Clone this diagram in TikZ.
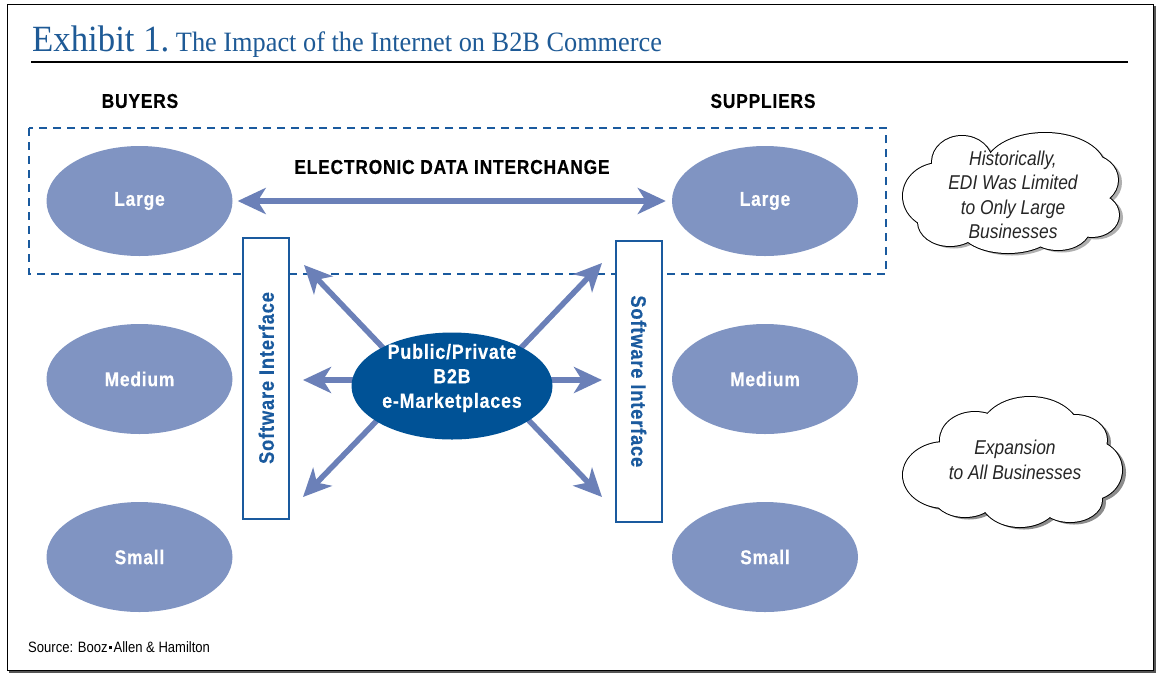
\documentclass[tikz,border=0pt]{standalone}
\usepackage{fontspec}
\setmainfont{Liberation Serif}
\newfontfamily\cond{Liberation Sans}[FakeStretch=0.87]
\newfontfamily\condsp{Liberation Sans}[FakeStretch=0.87,LetterSpace=4,BoldFeatures={FakeBold=0.4}]
\newfontfamily\ttlfont{Liberation Serif}[FakeStretch=0.94]
\usetikzlibrary{shapes.geometric,arrows.meta}

\definecolor{ellcol}{RGB}{128,148,194}
\definecolor{arrcol}{RGB}{107,128,184}
\definecolor{mktcol}{RGB}{0,82,150}
\definecolor{bluetxt}{RGB}{26,90,158}
\definecolor{titlecol}{RGB}{30,90,150}
\definecolor{framegray}{RGB}{85,85,85}
\definecolor{shadowgray}{RGB}{175,175,175}

\newcommand\cloudApath{%
 (940,196) ellipse [x radius=37pt, y radius=33pt]
 (962,162) ellipse [x radius=30pt, y radius=26pt]
 (1045,168) ellipse [x radius=60pt, y radius=35pt]
 (1090,180) ellipse [x radius=28pt, y radius=25pt]
 (1092,215) ellipse [x radius=27pt, y radius=22pt]
 (1058,228) ellipse [x radius=32pt, y radius=22pt]
 (1008,228) ellipse [x radius=48pt, y radius=25pt]
 (950,222) ellipse [x radius=32pt, y radius=24pt]
 (1011,193) ellipse [x radius=85pt, y radius=38pt]}
\newcommand\cloudBpath{%
 (945,475) ellipse [x radius=42pt, y radius=33pt]
 (975,440) ellipse [x radius=35pt, y radius=28pt]
 (1030,433) ellipse [x radius=50pt, y radius=36pt]
 (1075,440) ellipse [x radius=32pt, y radius=25pt]
 (1090,470) ellipse [x radius=32pt, y radius=30pt]
 (1070,500) ellipse [x radius=32pt, y radius=22pt]
 (1020,497) ellipse [x radius=40pt, y radius=30pt]
 (965,495) ellipse [x radius=32pt, y radius=22pt]
 (1012,465) ellipse [x radius=85pt, y radius=40pt]}

\begin{document}
\begin{tikzpicture}[x=1pt,y=-1pt,
 seg/.style={ellipse, fill=ellcol, minimum width=186pt, minimum height=110pt, inner sep=0pt, text=white, font=\condsp\bfseries\fontsize{20}{24}\selectfont},
 hdr/.style={font=\condsp\bfseries\fontsize{20}{24}\selectfont, text=black},
 swbox/.style={draw=bluetxt, line width=2pt, fill=white, minimum width=281pt, minimum height=46pt, inner sep=0pt, text=bluetxt, font=\condsp\bfseries\fontsize{21}{24}\selectfont},
 arr/.style={draw=arrcol, line width=5.5pt, -{Stealth[length=28pt,width=26pt,inset=8pt]}},
 arrboth/.style={draw=arrcol, line width=5.5pt, {Stealth[length=28pt,width=26pt,inset=8pt]}-{Stealth[length=28pt,width=26pt,inset=8pt]}},
 cloudtext/.style={align=center, font=\cond\itshape\fontsize{20}{24.5}\selectfont, text=black!85},
 mktell/.style={ellipse, fill=mktcol, minimum width=201pt, minimum height=107pt, inner sep=0pt},
 mkttext/.style={align=center, text=white, font=\condsp\bfseries\fontsize{20.5}{24.5}\selectfont}
]
\useasboundingbox (0,0) rectangle (1158,673);
\fill[white] (0,0) rectangle (1158,673);

% frame
\draw[framegray, line width=3pt] (1154.5,6) -- (1154.5,671.5) -- (9,671.5);
\draw[black, line width=1pt] (7.5,4.5) rectangle (1153,670);

% title
\node[anchor=base west, text=titlecol, inner sep=0pt] (title) at (32,51)
  {\ttlfont\fontsize{37}{40}\selectfont Exhibit 1.\fontsize{28}{30}\selectfont\ The Impact of the Internet on B2B Commerce};
\draw[black, line width=1.2pt] (31,62) -- (1128,62);

% headers
\node[hdr] (buyers) at (140,101) {BUYERS};
\node[hdr] (suppliers) at (763,101) {SUPPLIERS};

% dashed EDI region
\draw[bluetxt, line width=2pt, dash pattern=on 8pt off 6pt] (29,128) rectangle (886,274);

% ellipses
\node[seg] (BL) at (139.5,201) {Large};
\node[seg] (BM) at (139.5,379) {Medium};
\node[seg] (BS) at (139.5,557) {Small};
\node[seg] (SL) at (765,201) {Large};
\node[seg] (SM) at (765,379) {Medium};
\node[seg] (SS) at (765,557) {Small};

% EDI
\node[hdr] (edi) at (452,167) {ELECTRONIC DATA INTERCHANGE};
\draw[arrboth, shorten <=5pt, shorten >=6pt] (BL) -- (SL);

% software interface boxes
\node[swbox, rotate=90] (swL) at (266.3,378) {Software Interface};
\node[swbox, rotate=-90] (swR) at (638.7,381.3) {Software Interface};

% arrows from the e-marketplace
\coordinate (sUL) at (388,353);
\coordinate (tUL) at (304,265);
\coordinate (sUR) at (518,351);
\coordinate (tUR) at (602,263);
\coordinate (sL) at (380,380);
\coordinate (tL) at (303,380);
\coordinate (sR) at (525,380);
\coordinate (tR) at (602,380);
\coordinate (sLL) at (390,407);
\coordinate (tLL) at (303,497);
\coordinate (sLR) at (516,407);
\coordinate (tLR) at (602,497);
\draw[arr] (sUL) -- (tUL);
\draw[arr] (sUR) -- (tUR);
\draw[arr] (sL) -- (tL);
\draw[arr] (sR) -- (tR);
\draw[arr] (sLL) -- (tLL);
\draw[arr] (sLR) -- (tLR);

\node[mktell] (mkt) at (452,386) {};
\node[mkttext] (mktlbl) at (452,378) {Public/Private\\B2B\\e-Marketplaces};

% clouds (shadow, outline, white interior)
\begin{scope}[xshift=4pt, yshift=-2.5pt]
  \fill[shadowgray] \cloudApath;
  \fill[shadowgray!80!black] \cloudBpath;
\end{scope}
\draw[black, line width=2pt] \cloudApath;
\draw[black, line width=2pt] \cloudBpath;
\fill[white] \cloudApath;
\fill[white] \cloudBpath;
\node[cloudtext] (c1t) at (1013,195) {Historically,\\EDI Was Limited\\to Only Large\\Businesses};
\node[cloudtext] (c2t) at (1015,460) {Expansion\\to All Businesses};

% source
\node[anchor=base west, inner sep=0pt, font=\cond\fontsize{15}{17}\selectfont] (src) at (28,652)
  {Source: Booz\hspace{1.2pt}\raisebox{2.8pt}{\rule{3.4pt}{3.4pt}}\hspace{1.2pt}Allen \& Hamilton};
\end{tikzpicture}
\end{document}
